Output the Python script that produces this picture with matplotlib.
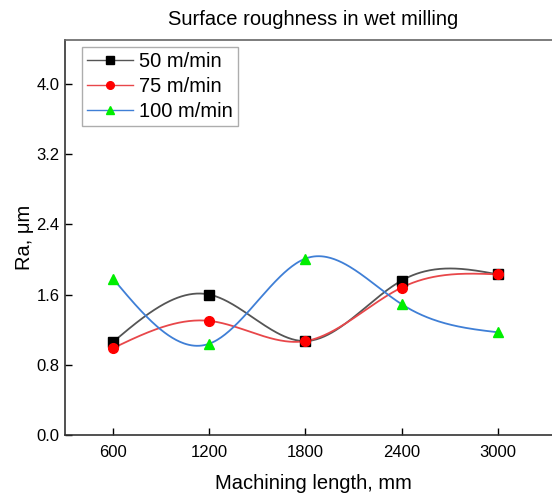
import numpy as np
import matplotlib
matplotlib.use("Agg")
import matplotlib.pyplot as plt

plt.rcParams['font.family'] = ['Liberation Sans', 'DejaVu Sans']

# machining length (mm) and Ra (um)
length = [600, 1200, 1800, 2400, 3000]
ra_50 = [1.06, 1.60, 1.07, 1.76, 1.83]
ra_75 = [0.99, 1.30, 1.07, 1.68, 1.83]
ra_100 = [1.78, 1.04, 2.01, 1.49, 1.17]
labels = ['50 m/min', '75 m/min', '100 m/min']


def natural_spline(x, y, n=300):
    # plain natural cubic spline, like Origin's smoothed line
    x = np.asarray(x, float)
    y = np.asarray(y, float)
    m = len(x)
    h = np.diff(x)
    A = np.zeros((m, m))
    b = np.zeros(m)
    A[0, 0] = 1
    A[-1, -1] = 1
    for i in range(1, m - 1):
        A[i, i - 1] = h[i - 1]
        A[i, i] = 2 * (h[i - 1] + h[i])
        A[i, i + 1] = h[i]
        b[i] = 6 * ((y[i + 1] - y[i]) / h[i] - (y[i] - y[i - 1]) / h[i - 1])
    M = np.linalg.solve(A, b)
    xs = np.linspace(x[0], x[-1], n)
    ys = np.empty_like(xs)
    for k, xv in enumerate(xs):
        i = min(np.searchsorted(x, xv, side='right') - 1, m - 2)
        t1 = x[i + 1] - xv
        t0 = xv - x[i]
        ys[k] = (M[i] * t1**3 + M[i + 1] * t0**3) / (6 * h[i]) \
            + (y[i] / h[i] - M[i] * h[i] / 6) * t1 \
            + (y[i + 1] / h[i] - M[i + 1] * h[i] / 6) * t0
    return xs, ys


fig = plt.figure(figsize=(5.52, 4.96), dpi=100)
ax = fig.add_axes([65 / 552, 61 / 496, 497 / 552, 395 / 496])

styles = [
    (ra_50, '#555555', 's', 'black', 6.5),
    (ra_75, '#e8474a', 'o', 'red', 7),
    (ra_100, '#3f7fd6', '^', '#00ee00', 7.5),
]
for (vals, lc, mk, mc, ms), lab in zip(styles, labels):
    xs, ys = natural_spline(length, vals)
    ax.plot(xs, ys, color=lc, lw=1.3, zorder=2)
    ax.plot(length, vals, ls='none', marker=mk, color=mc, ms=ms, zorder=3)
    ax.plot([], [], color=lc, lw=1.0, marker=mk, mfc=mc, mec=mc, ms=5.5, label=lab)

ax.set_xlim(300, 3400)
ax.set_ylim(0, 4.5)
ax.set_xticks(length)
ax.set_yticks(np.arange(0, 4.01, 0.8))
ax.yaxis.set_major_formatter(matplotlib.ticker.FormatStrFormatter('%.1f'))
ax.tick_params(direction='in', length=5, width=1, labelsize=12)
ax.tick_params(axis='x', pad=7)
ax.tick_params(axis='y', pad=4)
for s in ax.spines.values():
    s.set_color('#333333')
    s.set_linewidth(1.2)
ax.spines['top'].set_color('#666666')
ax.spines['right'].set_visible(False)

ax.set_xlabel('Machining length, mm', fontsize=14.5, labelpad=10)
ax.set_ylabel('Ra, μm', fontsize=14.5, labelpad=2)
ax.set_title('Surface roughness in wet milling', fontsize=14.5, pad=11)

leg = ax.legend(loc='upper left', fontsize=14.5, frameon=True, fancybox=False,
                edgecolor='#999999', handlelength=2.3, borderaxespad=0,
                handletextpad=0.3, labelspacing=0.3, borderpad=0.25,
                bbox_to_anchor=(17 / 497, 1 - 7 / 395))
leg.get_frame().set_linewidth(1.0)

fig.savefig('out.png', dpi=100)
